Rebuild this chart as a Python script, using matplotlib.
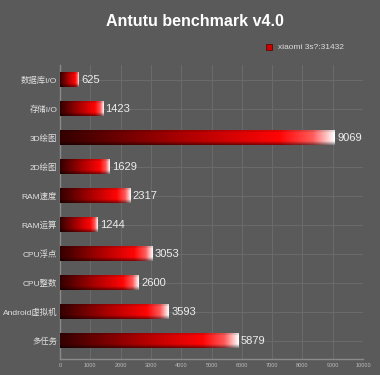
import numpy as np
import matplotlib
matplotlib.use("Agg")
import matplotlib.pyplot as plt
from matplotlib.colors import LinearSegmentedColormap
from matplotlib.patches import Rectangle

plt.rcParams['font.family'] = ['Liberation Sans', 'Noto Sans CJK SC', 'DejaVu Sans']

categories = ["数据库I/O", "存储I/O", "3D绘图", "2D绘图", "RAM速度", "RAM运算",
              "CPU浮点", "CPU整数", "Android虚拟机", "多任务"]
values = [625, 1423, 9069, 1629, 2317, 1244, 3053, 2600, 3593, 5879]
xticks = [0, 1000, 2000, 3000, 4000, 5000, 6000, 7000, 8000, 9000, 10000]
title = "Antutu benchmark v4.0"
legend_label = "xiaomi 3s?:31432"

BG = "#5a5a5a"
fig = plt.figure(figsize=(3.8, 3.75), dpi=100, facecolor=BG)
ax = fig.add_axes([60/380, 16/375, 303/380, 294/375], facecolor=BG)

y = np.arange(len(categories))
bars = ax.barh(y, values, height=0.5, color="none", edgecolor="none", zorder=3)

cmap = LinearSegmentedColormap.from_list("redgrad", [
    (0.0, (0.20, 0.0, 0.0)),
    (0.45, (0.68, 0.0, 0.0)),
    (0.80, (1.0, 0.02, 0.02)),
    (0.92, (1.0, 0.35, 0.35)),
    (1.0, (1.0, 1.0, 1.0)),
])
nx, ny = 256, 32
horiz = cmap(np.linspace(0, 1, nx))[:, :3]
yy = np.linspace(0, 1, ny)
vert = 1.0 - 0.12 * (yy < 0.12) - 0.5 * np.clip((yy - 0.75) / 0.25, 0, 1)
img = np.clip(vert[:, None, None] * horiz[None, :, :], 0, 1)

for b in bars:
    x0, y0, w, h = b.get_x(), b.get_y(), b.get_width(), b.get_height()
    ax.imshow(img, extent=(x0, x0 + w, y0 + h, y0), aspect="auto",
              interpolation="bilinear", zorder=3)
    ax.text(x0 + w + 80, y0 + h / 2, f"{int(w)}", va="center", ha="left",
            fontsize=8, color="#eeeeee", zorder=4)

ax.set_xlim(0, 10000)
ax.set_ylim(len(categories) - 0.38, -0.5)
ax.set_xticks(xticks)
ax.set_xticklabels([str(t) for t in xticks])
ax.set_yticks(y)
ax.set_yticklabels(categories)
ax.tick_params(axis="x", labelsize=4, colors="#bbbbbb", length=0, pad=3)
ax.tick_params(axis="y", labelsize=6, colors="#e0e0e0", length=0, pad=2)
ax.grid(True, color="#6a6a6a", linewidth=0.8, zorder=0)
ax.set_axisbelow(True)
for s in ["top", "right"]:
    ax.spines[s].set_visible(False)
ax.spines["left"].set_color("#8a8a8a")
ax.spines["bottom"].set_color("#8a8a8a")
ax.spines["left"].set_linewidth(1.0)
ax.spines["bottom"].set_linewidth(1.0)

fig.text(195/380, 1 - 22/375, title, ha="center", va="center",
         fontsize=11.5, fontweight="bold", color="white")
fig.patches.append(Rectangle((266/380, 1 - 50/375), 6/380, 6/375,
                             transform=fig.transFigure, facecolor="#cc0000",
                             edgecolor="#550000", linewidth=0.5))
fig.text(278/380, 1 - 47.5/375, legend_label, ha="left", va="center",
         fontsize=6, color="#dddddd")

fig.savefig("out.png", dpi=100, facecolor=BG)
